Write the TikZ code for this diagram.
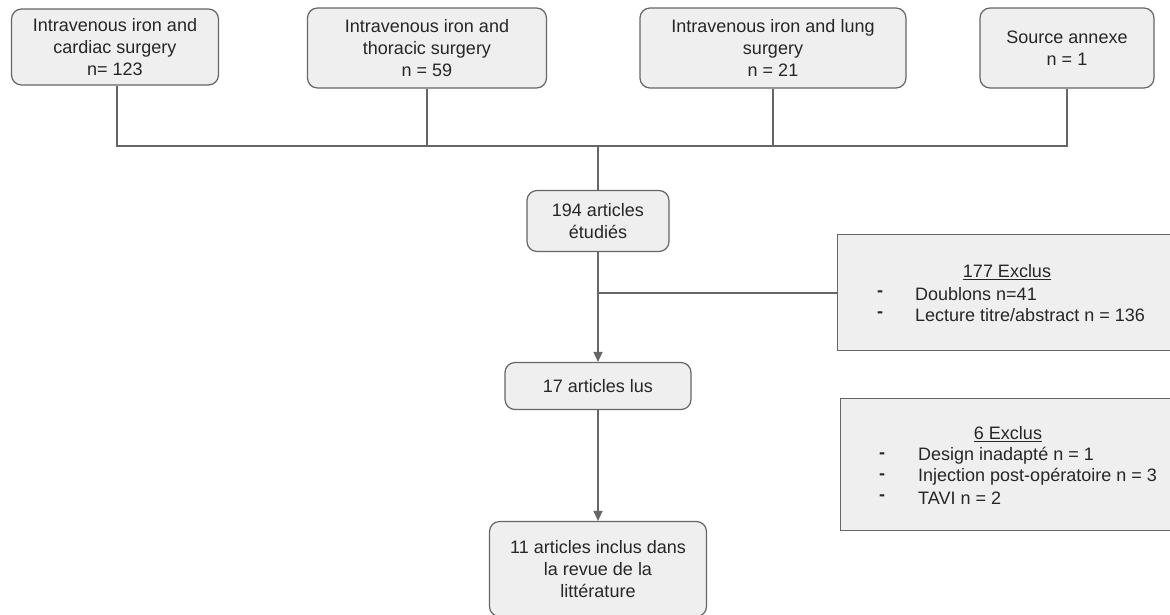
\documentclass[tikz,border=0pt]{standalone}
\usepackage{fontspec}
\setmainfont{Liberation Sans}
\usetikzlibrary{arrows.meta}
\definecolor{boxfill}{HTML}{EFEFEF}
\definecolor{boxline}{HTML}{666666}
\tikzset{
  rbox/.style={draw=boxline, fill=boxfill, line width=1.2pt, rounded corners=10pt,
    align=center, inner sep=0pt, font=\fontsize{18}{22}\selectfont, text=black!85},
  sbox/.style={draw=boxline, fill=boxfill, line width=1.2pt, inner sep=0pt},
  txt/.style={inner sep=0pt, font=\fontsize{18}{22}\selectfont, text=black!85},
  dashmark/.style={txt, font=\fontsize{18}{22}\selectfont\bfseries},
  conn/.style={draw=boxline, line width=1.2pt},
  arr/.style={conn, -{Triangle[length=10pt, width=9pt]}}
}
\begin{document}
\begin{tikzpicture}[x=1pt, y=-1pt]
\useasboundingbox (0,0) rectangle (1170,614);
\node[rbox, minimum width=207pt, minimum height=76pt] (b1) at (115,47) {Intravenous iron and\\cardiac surgery\\n= 123};
\node[rbox, minimum width=239pt, minimum height=80pt] (b2) at (427,48) {Intravenous iron and\\thoracic surgery\\n = 59};
\node[rbox, minimum width=266pt, minimum height=80pt] (b3) at (773,48) {Intravenous iron and lung\\surgery\\n = 21};
\node[rbox, minimum width=174pt, minimum height=80pt] (b4) at (1067,48) {Source annexe\\n = 1};
\coordinate (hub) at (598,146);
\node[rbox, minimum width=142pt, minimum height=61pt] (b5) at (598,221) {194 articles\\étudiés};
\node[rbox, minimum width=186pt, minimum height=47pt] (b6) at (598,386) {17 articles lus};
\node[rbox, minimum width=217pt, minimum height=95pt] (b7) at (598,569) {11 articles inclus dans\\la revue de la\\littérature};
% exclusion boxes
\node[sbox, minimum width=345pt, minimum height=116pt, anchor=north west] (e1) at (837,234) {};
\node[txt] (e1t) at (1007,272) {\underline{177 Exclus}};
\node[dashmark, anchor=west] (e1d1) at (877,294) {-};
\node[txt, anchor=west] (e1i1) at (915,294) {Doublons n=41};
\node[dashmark, anchor=west] (e1d2) at (877,315) {-};
\node[txt, anchor=west] (e1i2) at (915,315) {Lecture titre/abstract n = 136};
\node[sbox, minimum width=342pt, minimum height=132pt, anchor=north west] (e2) at (840,398) {};
\node[txt] (e2t) at (1008,434) {\underline{6 Exclus}};
\node[dashmark, anchor=west] (e2d1) at (879,456) {-};
\node[txt, anchor=west] (e2i1) at (918,456) {Design inadapté n = 1};
\node[dashmark, anchor=west] (e2d2) at (879,477) {-};
\node[txt, anchor=west] (e2i2) at (918,477) {Injection post-opératoire n = 3};
\node[dashmark, anchor=west] (e2d3) at (879,498) {-};
\node[txt, anchor=west] (e2i3) at (918,498) {TAVI n = 2};
% connectors
\draw[conn] (b1.south -| 117,0) |- (b4.south |- hub) -- (b4.south);
\draw[conn] (b2.south) -- (b2.south |- hub);
\draw[conn] (b3.south) -- (b3.south |- hub);
\draw[conn] (hub) -- (b5.north);
\draw[arr] (b5.south) -- (b6.north);
\coordinate (br) at (598,293);
\draw[conn] (br) -- (br -| e1.west);
\draw[arr] (b6.south) -- (b7.north);
\end{tikzpicture}
\end{document}
